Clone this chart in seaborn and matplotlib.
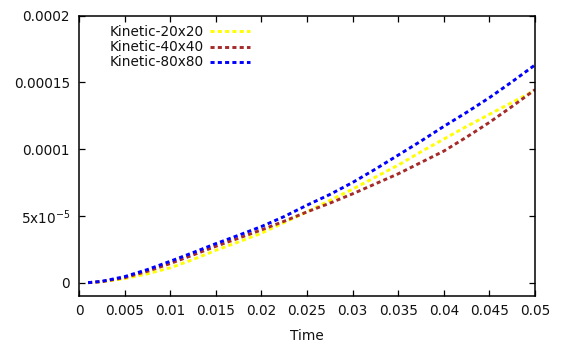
import matplotlib
matplotlib.use("Agg")
import matplotlib.pyplot as plt
import numpy as np
import pandas as pd
import seaborn as sns

# Sampled times and kinetic energy for three grid resolutions
time = [0.001, 0.0025, 0.005, 0.0075, 0.01, 0.0125, 0.015, 0.0175, 0.02, 0.0225,
        0.025, 0.0275, 0.03, 0.0325, 0.035, 0.0375, 0.04, 0.0425, 0.045, 0.0475, 0.05]
kinetic_20 = [0.0, 0.6e-6, 3.0e-6, 6.6e-6, 1.11e-5, 1.73e-5, 2.42e-5, 3.05e-5, 3.7e-5, 4.5e-5,
              5.3e-5, 6.15e-5, 7.0e-5, 7.9e-5, 8.8e-5, 9.8e-5, 1.075e-4, 1.17e-4, 1.26e-4, 1.35e-4, 1.44e-4]
kinetic_40 = [0.0, 0.8e-6, 3.7e-6, 8.5e-6, 1.43e-5, 2.07e-5, 2.72e-5, 3.33e-5, 3.95e-5, 4.6e-5,
              5.3e-5, 5.95e-5, 6.65e-5, 7.4e-5, 8.15e-5, 9.0e-5, 9.85e-5, 1.09e-4, 1.2e-4, 1.32e-4, 1.445e-4]
kinetic_80 = [0.0, 1.0e-6, 4.5e-6, 9.8e-6, 1.6e-5, 2.25e-5, 2.92e-5, 3.55e-5, 4.2e-5, 4.95e-5,
              5.8e-5, 6.6e-5, 7.5e-5, 8.5e-5, 9.55e-5, 1.06e-4, 1.17e-4, 1.275e-4, 1.385e-4, 1.505e-4, 1.63e-4]

series_names = ["Kinetic-20x20", "Kinetic-40x40", "Kinetic-80x80"]
series_colors = ["#ffff00", "#a52a2a", "#0000ff"]

x_ticks = [0, 0.005, 0.01, 0.015, 0.02, 0.025, 0.03, 0.035, 0.04, 0.045, 0.05]
x_tick_labels = ["0", "0.005", "0.01", "0.015", "0.02", "0.025", "0.03", "0.035", "0.04", "0.045", "0.05"]
y_ticks = [0, 5e-5, 1e-4, 1.5e-4, 2e-4]
y_tick_labels = ["0", r"5x10$^{\mathregular{-5}}$", "0.0001", "0.00015", "0.0002"]

df = pd.DataFrame({
    "Time": time * 3,
    "value": kinetic_20 + kinetic_40 + kinetic_80,
    "series": [n for n in series_names for _ in time],
})

sns.set_theme(style="white")
plt.rcParams["font.family"] = ["DejaVu Sans"]

fig = plt.figure(figsize=(5.63, 3.45), dpi=100)
ax = fig.add_axes([0.1403, 0.142, 0.8100, 0.813])

dash = (0, (1.4, 1.1))
sns.lineplot(data=df, x="Time", y="value", hue="series", hue_order=series_names,
             palette=series_colors, ax=ax, linewidth=2.1, legend=True)
for line in ax.get_lines():
    line.set_linestyle(dash)
    line.set_dash_capstyle("butt")

ax.set_xlim(0, 0.05)
ax.set_ylim(-1e-5, 2e-4)
ax.set_xticks(x_ticks)
ax.set_xticklabels(x_tick_labels)
ax.set_yticks(y_ticks)
ax.set_yticklabels(y_tick_labels)
ax.set_xlabel("Time", fontsize=9.8, color="#111111", labelpad=8.5)
ax.set_ylabel("")

ax.tick_params(axis="both", which="both", direction="in", length=4.3, width=0.9,
               color="black", labelsize=9.8, labelcolor="#111111",
               top=True, right=True, bottom=True, left=True)
ax.tick_params(axis="y", pad=6.5)
ax.tick_params(axis="x", pad=5.5)
for spine in ax.spines.values():
    spine.set_visible(True)
    spine.set_color("black")
    spine.set_linewidth(1.1)

handles, labels = ax.get_legend_handles_labels()
for h in handles:
    h.set_linestyle(dash)
    h.set_linewidth(2.1)
leg = ax.legend(handles, labels, loc="upper left", bbox_to_anchor=(0.056, 0.985),
                frameon=False, markerfirst=False, handlelength=2.9, handletextpad=0.45,
                labelspacing=0.08, fontsize=9.8, borderaxespad=0)
for t in leg.get_texts():
    t.set_color("#111111")

fig.savefig("out.png", dpi=100)
